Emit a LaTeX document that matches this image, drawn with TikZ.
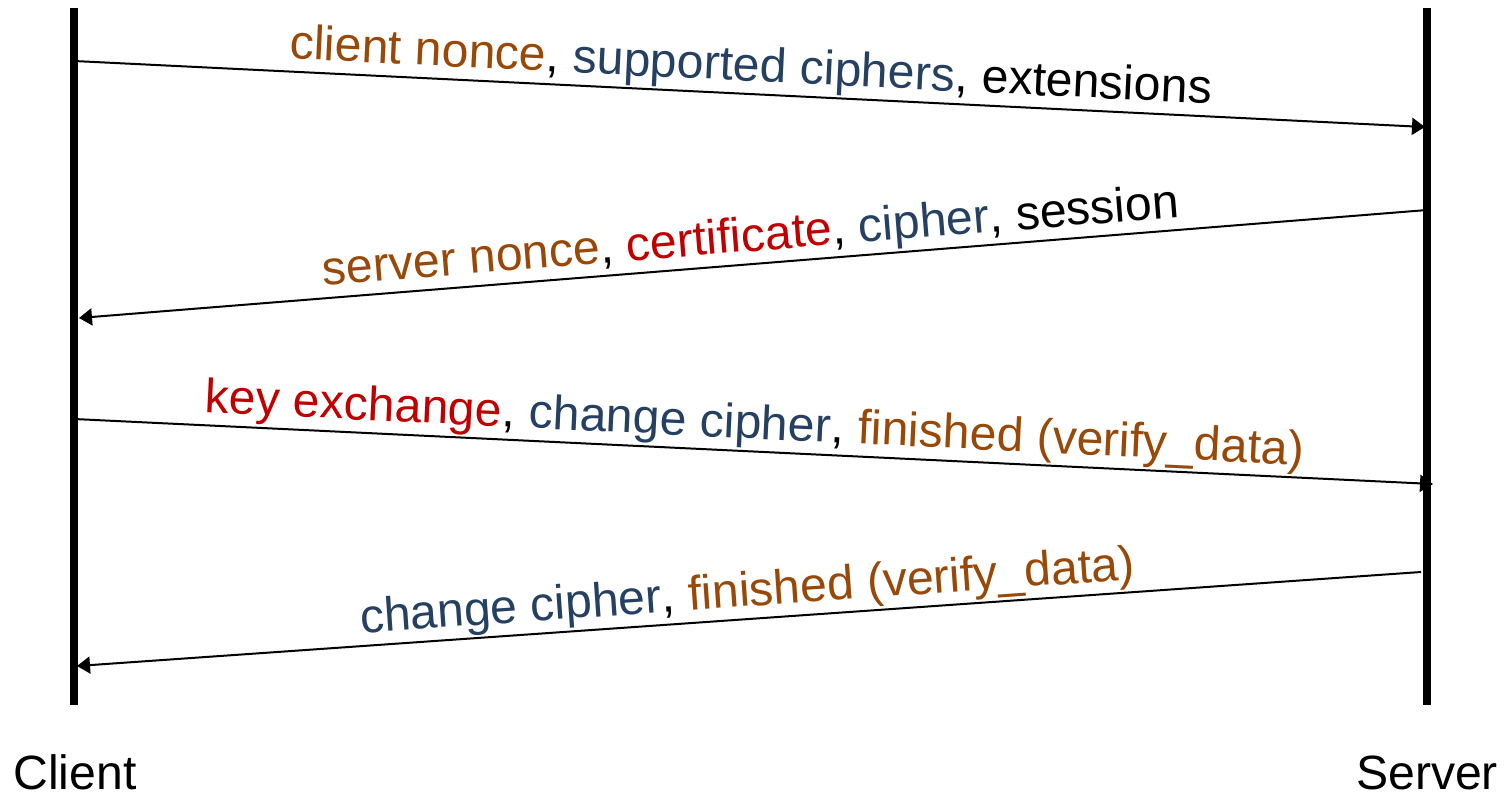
\documentclass[tikz,border=0pt]{standalone}
\usepackage{xcolor}
\usepackage{fontspec}
\setmainfont{Liberation Sans}
\usetikzlibrary{arrows.meta}

\definecolor{nonce}{HTML}{984807}
\definecolor{ciph}{HTML}{254061}
\definecolor{cert}{HTML}{C00000}

\begin{document}
\begin{tikzpicture}[x=0.02cm,y=-0.02cm,
    life/.style={line width=0.16cm},
    msg/.style={line width=0.04cm,-{Triangle[length=0.26cm,width=0.34cm]}},
    lbl/.style={font=\fontsize{27.4}{32}\selectfont,above,sloped,inner sep=1pt},
    party/.style={font=\fontsize{27.4}{32}\selectfont,anchor=base,inner sep=0pt}]
        \useasboundingbox (0,0) rectangle (1510,801);

        % life lines
        \coordinate (ctop) at (74,8);
        \coordinate (cbot) at (74,705);
        \coordinate (stop) at (1427,8);
        \coordinate (sbot) at (1427,705);
        \draw[life] (ctop) -- (cbot);
        \draw[life] (stop) -- (sbot);

        \node[party] (client) at (75,789) {Client};
        \node[party] (server) at (1427,789) {Server};

        % message ends
        \coordinate (c1) at (74,61);
        \coordinate (s1) at (1425,127);
        \coordinate (s2) at (1427,210);
        \coordinate (c2) at (79,318);
        \coordinate (c3) at (74,419);
        \coordinate (s3) at (1433,484);
        \coordinate (s4) at (1421,572);
        \coordinate (c4) at (77,666);

        \draw[msg] (c1) -- node[lbl] {\textcolor{nonce}{client nonce}, \textcolor{ciph}{supported ciphers}, extensions} (s1);
        \draw[msg] (s2) -- node[lbl] {\textcolor{nonce}{server nonce}, \textcolor{cert}{certificate}, \textcolor{ciph}{cipher}, session} (c2);
        \draw[msg] (c3) -- node[lbl] {\textcolor{cert}{key exchange}, \textcolor{ciph}{change cipher}, \textcolor{nonce}{finished (verify\_data)}} (s3);
        \draw[msg] (s4) -- node[lbl] {\textcolor{ciph}{change cipher}, \textcolor{nonce}{finished (verify\_data)}} (c4);
    \end{tikzpicture}
\end{document}
